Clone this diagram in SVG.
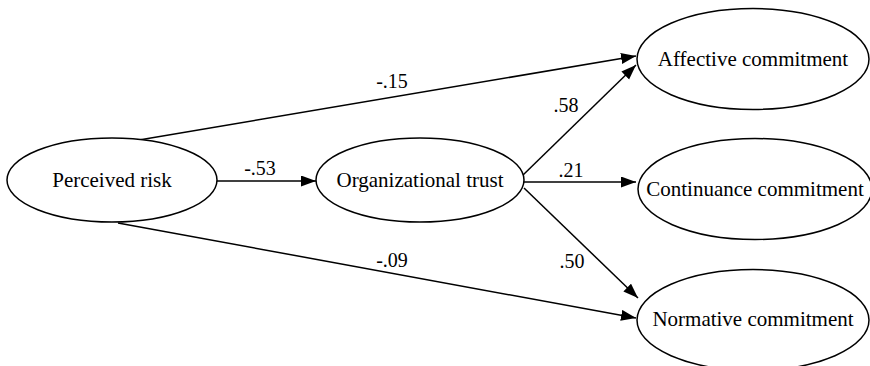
<svg xmlns="http://www.w3.org/2000/svg" width="870" height="366" viewBox="0 0 870 366">
<style>
.node ellipse{fill:#fff;stroke:#000;stroke-width:1.5}
.node text{text-anchor:middle}
.edge line{stroke:#000;stroke-width:1.5}
.lbl{text-anchor:middle}
</style>
<defs>
<marker id="arr" markerUnits="userSpaceOnUse" markerWidth="16" markerHeight="12" refX="15" refY="5.5" orient="auto">
<path d="M0,0 L15,5.5 L0,11 z" fill="#000"/>
</marker>
</defs>
<rect width="870" height="366" fill="#fff"/>
<g id="connectors" class="edge" font-family="Liberation Serif, Times New Roman, serif" font-size="20">
<line x1="217" y1="181" x2="316" y2="181" marker-end="url(#arr)"/>
<line x1="139" y1="140" x2="636" y2="56" marker-end="url(#arr)"/>
<line x1="522" y1="176" x2="636" y2="65" marker-end="url(#arr)"/>
<line x1="524" y1="182" x2="636" y2="182" marker-end="url(#arr)"/>
<line x1="524" y1="188" x2="638" y2="298" marker-end="url(#arr)"/>
<line x1="118" y1="223" x2="636" y2="318" marker-end="url(#arr)"/>
<text class="lbl" x="260" y="175">-.53</text>
<text class="lbl" x="392" y="88">-.15</text>
<text class="lbl" x="566" y="112">.58</text>
<text class="lbl" x="571" y="177">.21</text>
<text class="lbl" x="572" y="268">.50</text>
<text class="lbl" x="392" y="267">-.09</text>
</g>
<g id="perceived-risk" class="node" font-family="Liberation Serif, Times New Roman, serif" font-size="21">
<ellipse cx="112" cy="180" rx="105" ry="42"/>
<text x="112" y="187">Perceived risk</text>
</g>
<g id="organizational-trust" class="node" font-family="Liberation Serif, Times New Roman, serif" font-size="21">
<ellipse cx="420" cy="180" rx="104" ry="42"/>
<text x="420" y="187">Organizational trust</text>
</g>
<g id="affective-commitment" class="node" font-family="Liberation Serif, Times New Roman, serif" font-size="21">
<ellipse cx="753" cy="59" rx="116" ry="50.5"/>
<text x="753" y="66">Affective commitment</text>
</g>
<g id="continuance-commitment" class="node" font-family="Liberation Serif, Times New Roman, serif" font-size="21">
<ellipse cx="755" cy="189" rx="117" ry="50.5"/>
<text x="755" y="196">Continuance commitment</text>
</g>
<g id="normative-commitment" class="node" font-family="Liberation Serif, Times New Roman, serif" font-size="21">
<ellipse cx="753" cy="320" rx="116" ry="50.5"/>
<text x="753" y="326">Normative commitment</text>
</g>
</svg>
